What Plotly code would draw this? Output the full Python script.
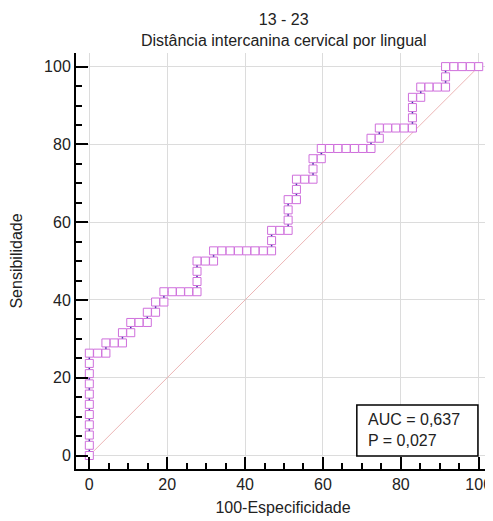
import plotly.graph_objects as go

# ROC curve points (100-Especificidade, Sensibilidade)
fpr = [0.00, 0.00, 0.00, 0.00, 0.00, 0.00, 0.00, 0.00, 0.00, 0.00, 0.00,
       2.13, 4.26,
       4.26, 6.38, 8.51,
       8.51, 10.64,
       10.64, 12.77, 14.89,
       14.89, 17.02,
       17.02, 19.15,
       19.15, 21.28, 23.40, 25.53, 27.66,
       27.66,
       27.66,
       27.66, 29.79, 31.91,
       31.91, 34.04, 36.17, 38.30, 40.43, 42.55, 44.68, 46.81,
       46.81,
       46.81, 48.94, 51.06,
       51.06,
       51.06,
       51.06, 53.19,
       53.19,
       53.19, 55.32, 57.45,
       57.45,
       57.45, 59.57,
       59.57, 61.70, 63.83, 65.96, 68.09, 70.21, 72.34,
       72.34, 74.47,
       74.47, 76.60, 78.72, 80.85, 82.98,
       82.98,
       82.98,
       82.98, 85.11,
       85.11, 87.23, 89.36, 91.49,
       91.49,
       91.49, 93.62, 95.74, 97.87, 100.00]
tpr = [0.00, 2.63, 5.26, 7.89, 10.53, 13.16, 15.79, 18.42, 21.05, 23.68, 26.32,
       26.32, 26.32,
       28.95, 28.95, 28.95,
       31.58, 31.58,
       34.21, 34.21, 34.21,
       36.84, 36.84,
       39.47, 39.47,
       42.11, 42.11, 42.11, 42.11, 42.11,
       44.74,
       47.37,
       50.00, 50.00, 50.00,
       52.63, 52.63, 52.63, 52.63, 52.63, 52.63, 52.63, 52.63,
       55.26,
       57.89, 57.89, 57.89,
       60.53,
       63.16,
       65.79, 65.79,
       68.42,
       71.05, 71.05, 71.05,
       73.68,
       76.32, 76.32,
       78.95, 78.95, 78.95, 78.95, 78.95, 78.95, 78.95,
       81.58, 81.58,
       84.21, 84.21, 84.21, 84.21, 84.21,
       86.84,
       89.47,
       92.11, 92.11,
       94.74, 94.74, 94.74, 94.74,
       97.37,
       100.00, 100.00, 100.00, 100.00, 100.00]

diag_x = [0, 100]
diag_y = [0, 100]

tick_vals = [0, 20, 40, 60, 80, 100]
title_text = "13 - 23<br>Distância intercanina cervical por lingual"
x_title = "100-Especificidade"
y_title = "Sensibilidade"
stats_text = "AUC = 0,637<br>P = 0,027"

FONT = "Liberation Sans, Arial, sans-serif"
FS = 16

fig = go.Figure()
fig.add_trace(go.Scatter(x=diag_x, y=diag_y, mode="lines",
                         line=dict(color="rgb(236,182,182)", width=1),
                         hoverinfo="skip"))
fig.add_trace(go.Scatter(x=fpr, y=tpr, mode="lines",
                         line=dict(color="#3838A8", width=1.5),
                         hoverinfo="skip"))
fig.add_trace(go.Scatter(x=fpr, y=tpr, mode="markers",
                         marker=dict(symbol="square", size=8, color="white",
                                     line=dict(color="#CF6FDC", width=1))))

axis_common = dict(
    tickvals=tick_vals, ticks="inside", ticklen=12, tickwidth=2,
    tickcolor="black", showline=True, linecolor="black", linewidth=2,
    showgrid=True, gridcolor="#DCDCDC", gridwidth=1, zeroline=False,
    automargin=False,
    tickfont=dict(family=FONT, size=FS, color="#222"),
    minor=dict(tick0=0, dtick=5, ticks="inside", ticklen=6, tickwidth=1.5,
               tickcolor="black", showgrid=False),
)

fig.update_xaxes(range=[-3.42, 102.9], title=dict(text=x_title, standoff=10,
                 font=dict(family=FONT, size=FS, color="#222")), **axis_common)
fig.update_yaxes(range=[-3.47, 103.5], title=dict(text=y_title, standoff=19,
                 font=dict(family=FONT, size=FS, color="#222")), **axis_common)

fig.add_shape(type="rect", xref="x", yref="y", x0=68.7, x1=99.8, y0=-0.13, y1=13.0,
              line=dict(color="black", width=1.5), fillcolor="white", layer="above")
fig.add_annotation(xref="x", yref="y", x=71.0, y=6.5, xanchor="left", yanchor="middle",
                   text=stats_text, showarrow=False, align="left",
                   font=dict(family=FONT, size=FS, color="#222"))

# chart title as an annotation centred over the plot area
fig.add_annotation(xref="paper", yref="paper", x=0.5, y=1, xanchor="center",
                   yanchor="bottom", yshift=2, text=title_text, showarrow=False,
                   align="center", font=dict(family=FONT, size=FS, color="#222"))

# the page body adds an 8 px offset, so the figure is 8 px smaller and margins shifted
fig.update_layout(
    width=485, height=513,
    margin=dict(l=68, r=3, t=45, b=52),
    plot_bgcolor="white", paper_bgcolor="white",
    showlegend=False,
    font=dict(family=FONT, size=FS, color="#222"),
)

fig.write_html("out.html")
